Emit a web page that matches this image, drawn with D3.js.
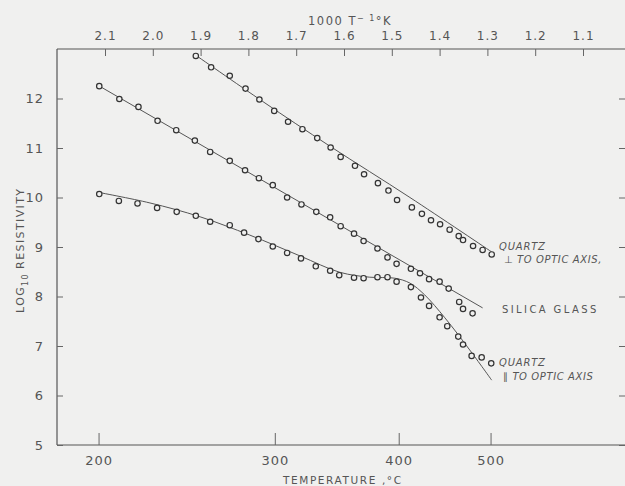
<!DOCTYPE html>
<html>
<head>
<meta charset="utf-8">
<script src="https://cdn.jsdelivr.net/npm/d3@7"></script>
<style>
  body { margin: 0; background: #f0f0ef; }
  svg { display: block; }
  text { font-family: "DejaVu Sans", sans-serif; fill: #555; }
</style>
</head>
<body>
<div id="container"></div>
<script>
// x values are 1000/T (K), y values are log10 resistivity
const perpX = [1.910, 1.878, 1.839, 1.806, 1.777, 1.746, 1.717, 1.687, 1.656, 1.628, 1.607, 1.577, 1.558,
  1.529, 1.507, 1.489, 1.458, 1.437, 1.418, 1.399, 1.379, 1.360, 1.351, 1.330, 1.310, 1.291];
const perpY = [12.86, 12.63, 12.46, 12.20, 11.98, 11.75, 11.53, 11.38, 11.20, 11.01, 10.82, 10.64, 10.47,
  10.29, 10.14, 9.95, 9.80, 9.67, 9.54, 9.46, 9.35, 9.22, 9.14, 9.02, 8.94, 8.85];
const perpFitX = [1.914, 1.770, 1.630, 1.462, 1.291];
const perpFitY = [12.90, 11.94, 11.04, 10.00, 8.90];

const glassX = [2.112, 2.070, 2.030, 1.990, 1.951, 1.912, 1.880, 1.839, 1.807, 1.778, 1.749, 1.719, 1.689,
  1.658, 1.629, 1.607, 1.579, 1.559, 1.530, 1.509, 1.490, 1.460, 1.441, 1.422, 1.400, 1.381, 1.359, 1.351, 1.331];
const glassY = [12.25, 11.99, 11.83, 11.55, 11.36, 11.15, 10.92, 10.74, 10.55, 10.39, 10.25, 10.00, 9.86,
  9.71, 9.60, 9.42, 9.27, 9.12, 8.97, 8.79, 8.66, 8.56, 8.47, 8.35, 8.30, 8.16, 7.89, 7.75, 7.66];
const glassFitX = [2.117, 1.310];
const glassFitY = [12.28, 7.77];

const paraX = [2.112, 2.071, 2.032, 1.991, 1.950, 1.910, 1.880, 1.839, 1.809, 1.779, 1.749, 1.719, 1.690,
  1.659, 1.629, 1.610, 1.579, 1.559, 1.530, 1.509, 1.490, 1.460, 1.439, 1.422, 1.400, 1.384, 1.361, 1.351,
  1.333, 1.312, 1.292];
const paraY = [10.07, 9.93, 9.88, 9.79, 9.71, 9.63, 9.51, 9.44, 9.29, 9.16, 9.01, 8.88, 8.77,
  8.61, 8.52, 8.43, 8.38, 8.37, 8.39, 8.39, 8.30, 8.19, 7.98, 7.81, 7.58, 7.40, 7.19, 7.03,
  6.80, 6.77, 6.65];
const paraFitX = [2.117, 2.006, 1.901, 1.797, 1.692, 1.609, 1.546, 1.494, 1.462, 1.431, 1.389, 1.337, 1.291];
const paraFitY = [10.11, 9.89, 9.61, 9.24, 8.82, 8.49, 8.39, 8.37, 8.27, 8.03, 7.57, 6.92, 6.31];

const topTicks = [2.1, 2.0, 1.9, 1.8, 1.7, 1.6, 1.5, 1.4, 1.3, 1.2, 1.1];
const tempTicks = [200, 300, 400, 500];
const yTicks = [5, 6, 7, 8, 9, 10, 11, 12];

const w = 625, h = 486;
const padL = 57, padT = 49, padB = 445, padR = 625;

const svg = d3.select("#container").append("svg")
  .attr("width", w).attr("height", h);

const x = d3.scaleLinear().domain([2.1, 1.1]).range([105, 583]);
const y = d3.scaleLinear().domain([5, 13]).range([padB, padT]);

// frame
const frame = svg.append("g").attr("stroke", "#555").attr("stroke-width", 1.2);
frame.append("line").attr("x1", padL).attr("x2", padL).attr("y1", padT).attr("y2", padB);
frame.append("line").attr("x1", padL).attr("x2", padR).attr("y1", padT).attr("y2", padT);
frame.append("line").attr("x1", padL).attr("x2", padR).attr("y1", padB).attr("y2", padB);

function styleAxis(g, size) {
  g.select(".domain").remove();
  g.selectAll(".tick line").attr("stroke", "#666");
  g.selectAll("text").attr("font-size", size).attr("fill", "#555")
    .attr("font-family", "DejaVu Sans, sans-serif").style("letter-spacing", "1px");
}

svg.append("g").attr("transform", "translate(0," + padT + ")")
  .call(d3.axisTop(x).tickValues(topTicks).tickFormat(d3.format(".1f"))
    .tickSizeInner(-7).tickSizeOuter(0).tickPadding(9))
  .call(g => styleAxis(g, 12));

svg.append("g").attr("transform", "translate(0," + padB + ")")
  .call(d3.axisBottom(x).tickValues(tempTicks.map(t => 1000 / (t + 273.15)))
    .tickFormat((d, i) => tempTicks[i])
    .tickSizeInner(-12).tickSizeOuter(0).tickPadding(11))
  .call(g => styleAxis(g, 13));

svg.append("g").attr("transform", "translate(" + padL + ",0)")
  .call(d3.axisLeft(y).tickValues(yTicks).tickSizeInner(-6).tickSizeOuter(0).tickPadding(13))
  .call(g => styleAxis(g, 13));

svg.append("g").attr("transform", "translate(" + padR + ",0)")
  .call(d3.axisRight(y).tickValues(yTicks).tickSizeInner(-6).tickSizeOuter(0).tickFormat(""))
  .call(g => styleAxis(g, 12));

// axis titles
svg.append("text").attr("x", 308).attr("y", 25)
  .attr("font-size", 11.5).style("letter-spacing", "1.5px")
  .html('1000 T<tspan dy="-4" font-size="8">\u2212 1</tspan><tspan dy="4">\u00b0K</tspan>');

svg.append("text").attr("x", 283).attr("y", 484)
  .attr("font-size", 10.5).style("letter-spacing", "1.6px")
  .text("TEMPERATURE ,\u00b0C");

svg.append("text").attr("transform", "translate(24,313) rotate(-90)")
  .attr("font-size", 11).style("letter-spacing", "1.4px")
  .html('LOG<tspan dy="4" font-size="8">10</tspan><tspan dy="-4" dx="4">RESISTIVITY</tspan>');

// curves and points
const line = d3.line().x(d => x(d[0])).y(d => y(d[1])).curve(d3.curveCatmullRom);

const series = [
  { px: perpX, py: perpY, fx: perpFitX, fy: perpFitY },
  { px: glassX, py: glassY, fx: glassFitX, fy: glassFitY },
  { px: paraX, py: paraY, fx: paraFitX, fy: paraFitY }
];

series.forEach(s => {
  svg.append("path")
    .datum(s.fx.map((v, i) => [v, s.fy[i]]))
    .attr("d", line)
    .attr("fill", "none").attr("stroke", "#555").attr("stroke-width", 1);
  svg.append("g").selectAll("circle")
    .data(s.px.map((v, i) => [v, s.py[i]]))
    .enter().append("circle")
    .attr("cx", d => x(d[0]))
    .attr("cy", d => y(d[1]))
    .attr("r", 2.7)
    .attr("fill", "#f0f0ef").attr("stroke", "#333").attr("stroke-width", 1.2);
});

// curve labels
const labels = [
  { t: "QUARTZ", x: 499, y: 250, it: true, ls: "0.8px" },
  { t: "\u22a5 TO OPTIC AXIS,", x: 504, y: 263, it: true, ls: "0.6px" },
  { t: "SILICA GLASS", x: 502, y: 313, it: false, ls: "2.4px" },
  { t: "QUARTZ", x: 499, y: 366, it: true, ls: "0.8px" },
  { t: "\u2225 TO OPTIC AXIS", x: 503, y: 380, it: true, ls: "0.6px" }
];
svg.append("g").selectAll("text").data(labels).enter().append("text")
  .attr("x", d => d.x).attr("y", d => d.y)
  .attr("font-size", 10)
  .attr("font-style", d => d.it ? "italic" : "normal")
  .style("letter-spacing", d => d.ls)
  .text(d => d.t);
</script>
</body>
</html>
